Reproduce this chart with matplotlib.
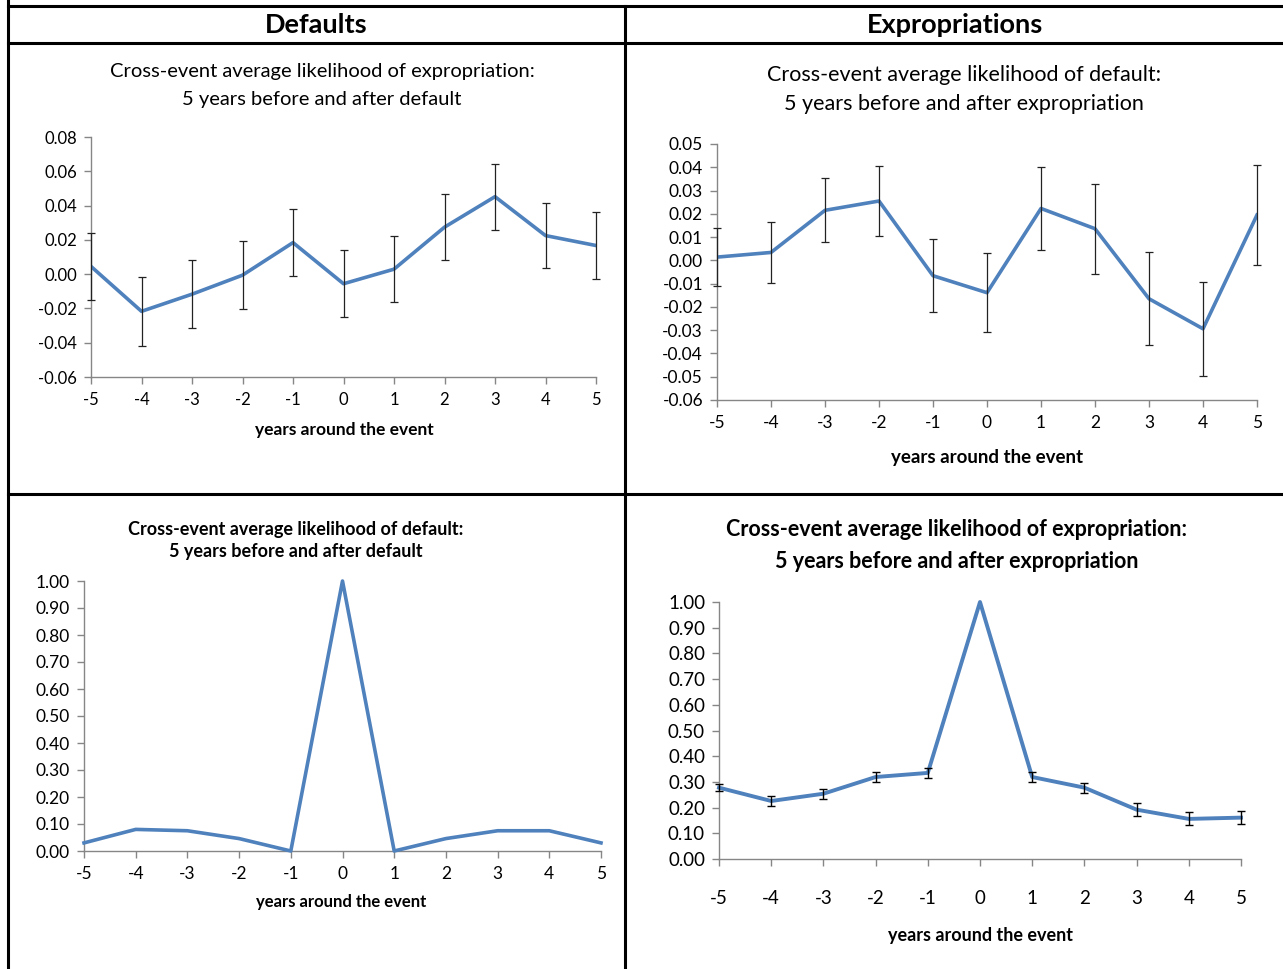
import matplotlib.pyplot as plt
from matplotlib.lines import Line2D

plt.rcParams['font.family'] = ['Lato', 'DejaVu Sans']
plt.rcParams['axes.unicode_minus'] = False

W, H = 1283, 969

years = [-5, -4, -3, -2, -1, 0, 1, 2, 3, 4, 5]

# top-left: likelihood of expropriation around default
expr_around_def = [0.0045, -0.0217, -0.0117, -0.0006, 0.0184, -0.0056, 0.0029, 0.0274, 0.0452, 0.0225, 0.0167]
expr_around_def_err = [0.0195, 0.020, 0.020, 0.0198, 0.0195, 0.0195, 0.0192, 0.0192, 0.0193, 0.0192, 0.0195]

# top-right: likelihood of default around expropriation
def_around_expr = [0.0014, 0.0034, 0.0215, 0.0255, -0.0066, -0.0139, 0.0223, 0.0136, -0.0165, -0.0294, 0.0195]
def_around_expr_err = [0.0125, 0.013, 0.0138, 0.0152, 0.0158, 0.0169, 0.018, 0.0193, 0.020, 0.0203, 0.0215]

# bottom-left: likelihood of default around default
def_around_def = [0.03, 0.08, 0.075, 0.046, 0.0, 1.0, 0.0, 0.046, 0.075, 0.075, 0.03]

# bottom-right: likelihood of expropriation around expropriation
expr_around_expr = [0.2776, 0.2257, 0.254, 0.319, 0.335, 1.0, 0.319, 0.2776, 0.192, 0.156, 0.161]
expr_around_expr_err = [0.014, 0.018, 0.019, 0.018, 0.02, 0.0, 0.02, 0.02, 0.024, 0.025, 0.025]

BLUE = '#4F81BD'
GRAY = '#868686'


def rect(x0, y0, x1, y1):
    return [x0 / W, 1 - y1 / H, (x1 - x0) / W, (y1 - y0) / H]


def ftext(x, y, s, **kw):
    fig.text(x / W, 1 - y / H, s, ha='center', va='center', color='black', **kw)


def err_bars(ax, xs, ys, errs, color, lw):
    # skip points without an error estimate
    pts = [(x, y, e) for x, y, e in zip(xs, ys, errs) if e > 0]
    ax.errorbar([p[0] for p in pts], [p[1] for p in pts], yerr=[p[2] for p in pts],
                fmt='none', ecolor=color, elinewidth=lw, capsize=3, capthick=lw,
                zorder=4, clip_on=False)


fig = plt.figure(figsize=(W / 100, H / 100), dpi=100)

# table grid
lines = [((8, 8), (0, 969)), ((625, 625), (6, 969)),
         ((8, 1283), (6, 6)), ((8, 1283), (43, 43)), ((8, 1283), (494, 494))]
for xs, ys in lines:
    fig.add_artist(Line2D([x / W for x in xs], [1 - y / H for y in ys],
                          color='black', lw=2.2))

ftext(316, 25, 'Defaults', fontsize=19.5, fontweight='bold')
ftext(955, 25, 'Expropriations', fontsize=19.5, fontweight='bold')


def style(ax, ylo, yhi, step, tick_fs):
    ax.set_xlim(-5, 5)
    ax.set_ylim(ylo, yhi)
    ax.set_xticks(years)
    n = int(round((yhi - ylo) / step))
    ax.set_yticks([ylo + i * step for i in range(n + 1)])
    ax.yaxis.set_major_formatter(plt.FuncFormatter(lambda v, p: f'{v:.2f}'))
    for s in ['top', 'right']:
        ax.spines[s].set_visible(False)
    for s in ['left', 'bottom']:
        ax.spines[s].set_color(GRAY)
        ax.spines[s].set_linewidth(1)
    ax.tick_params(axis='both', color=GRAY, length=5, width=1, labelsize=tick_fs,
                   labelcolor='black')
    ax.tick_params(axis='x', pad=6)
    ax.tick_params(axis='y', pad=5)
    ax.patch.set_alpha(0)


# top-left
ax1 = fig.add_axes(rect(91, 137, 596, 377))
ax1.plot(years, expr_around_def, color=BLUE, lw=2.6, zorder=3)
err_bars(ax1, years, expr_around_def, expr_around_def_err, '#222222', 0.9)
style(ax1, -0.06, 0.08, 0.02, 12)
ftext(322, 72, 'Cross-event average likelihood of expropriation:', fontsize=14.5)
ftext(322, 99, '5 years before and after default', fontsize=14.5)
ftext(344, 430, 'years around the event', fontsize=12.5, fontweight='bold')

# top-right
ax2 = fig.add_axes(rect(717, 144, 1257, 400))
ax2.plot(years, def_around_expr, color=BLUE, lw=2.6, zorder=3)
err_bars(ax2, years, def_around_expr, def_around_expr_err, '#222222', 0.9)
style(ax2, -0.06, 0.05, 0.01, 12.5)
ftext(964, 75, 'Cross-event average likelihood of default:', fontsize=15.5)
ftext(964, 104, '5 years before and after expropriation', fontsize=15.5)
ftext(987, 457, 'years around the event', fontsize=13.5, fontweight='bold')

# bottom-left
ax3 = fig.add_axes(rect(84, 581, 601, 851))
ax3.plot(years, def_around_def, color=BLUE, lw=2.6, zorder=3, clip_on=False)
style(ax3, 0.0, 1.0, 0.1, 12.5)
ftext(296, 529, 'Cross-event average likelihood of default:', fontsize=13, fontweight='bold')
ftext(296, 552, '5 years before and after default', fontsize=13, fontweight='bold')
ftext(341, 902, 'years around the event', fontsize=12, fontweight='bold')

# bottom-right
ax4 = fig.add_axes(rect(719, 602, 1241, 859))
ax4.plot(years, expr_around_expr, color=BLUE, lw=2.8, zorder=3, clip_on=False)
err_bars(ax4, years, expr_around_expr, expr_around_expr_err, 'black', 1)
style(ax4, 0.0, 1.0, 0.1, 13.5)
ax4.tick_params(axis='x', pad=17)
ftext(957, 529, 'Cross-event average likelihood of expropriation:', fontsize=15.5, fontweight='bold')
ftext(957, 561, '5 years before and after expropriation', fontsize=15.5, fontweight='bold')
ftext(980, 936, 'years around the event', fontsize=13, fontweight='bold')

fig.savefig('out.png', dpi=100)
